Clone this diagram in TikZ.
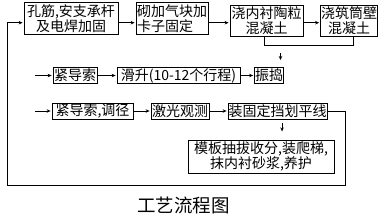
\documentclass[tikz,border=0pt]{standalone}
\usepackage{fontspec}
\setmainfont{Noto Sans CJK SC}
\usetikzlibrary{arrows.meta}

\tikzset{
  box/.style={draw, line width=0.8pt, inner sep=0.5pt, align=center,
    font=\fontsize{14}{15}\selectfont},
  arr/.style={-{Stealth[length=4pt,width=3.5pt]}, line width=0.8pt, shorten >=1pt},
  ln/.style={line width=0.8pt},
}

\begin{document}
\begin{tikzpicture}[x=1pt,y=-1pt]
\useasboundingbox (0,0) rectangle (387,224);

% first row
\node[box, minimum width=94pt, minimum height=32pt] (kj) at (71,18.5) {孔筋,安支承杆\\及电焊加固};
\node[box, minimum width=72pt, minimum height=32pt, align=left] (jq) at (172,18.5) {砌加气块加\\卡子固定};
\node[box, minimum width=73pt, minimum height=31pt] (tc) at (266.5,20.5) {浇内衬陶粒\\混凝土};
\node[box, minimum width=56pt, minimum height=31pt] (tz) at (349,20.5) {浇筑筒壁\\混凝土};

\coordinate (top) at (7,22.7);
\draw[arr] (kj.east |- top) -- (jq.west |- top);
\draw[arr] (jq.east |- top) -- (tc.west |- top);
\draw[arr] (tc.east |- top) -- (tz.west |- top);
\draw[ln] ([xshift=-2.5pt]tc.south) -- ++(0,9) -| ([xshift=4pt]tz.south);
\coordinate (m1) at (280.5,53);
\draw[arr] (m1) -- ++(0,8);

% second row
\coordinate (s2) at (35,75.5);
\node[box, minimum width=44pt, minimum height=16pt] (jd) at (75,75.5) {紧导索};
\node[box, minimum width=123pt, minimum height=16pt] (hs) at (178.5,75.5) {滑升(10-12个行程)};
\node[box, minimum width=28pt, minimum height=16pt] (zd) at (269,75.5) {振捣};
\draw[arr] (s2) -- (jd.west);
\draw[arr] (jd) -- (hs);
\draw[arr] (hs) -- (zd);

% third row
\coordinate (s3) at (35,111);
\node[box, minimum width=81pt, minimum height=16pt] (jt) at (92.5,111) {紧导索,调径};
\node[box, minimum width=58pt, minimum height=16pt] (gc) at (180,111) {激光观测};
\node[box, minimum width=99pt, minimum height=16pt] (zg) at (277.5,111) {装固定挡划平线};
\draw[arr] (s3) -- (jt.west);
\draw[arr] (jt) -- (gc);
\draw[arr] (gc) -- (zg);

\node[box, minimum width=146pt, minimum height=33pt] (mb) at (261,156.5) {模板抽拔收分,装爬梯,\\抹内衬砂浆,养护};
\draw[arr] ([xshift=4.5pt,yshift=-4pt]zg.south) -- ++(0,9);

% return line
\coordinate (r1) at (345,111);
\coordinate (r2) at (345,185);
\coordinate (l2) at (7,185);
\draw[arr] (zg.east) -- (r1) -- (r2) -- (l2) -- (top) -- (top -| kj.west);

\node[font=\fontsize{18.5}{20}\selectfont] (title) at (183.5,205) {工艺流程图};
\end{tikzpicture}
\end{document}
